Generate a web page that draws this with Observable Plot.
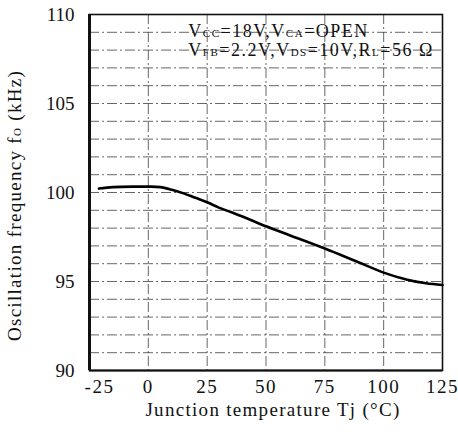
<!DOCTYPE html>
<html>
<head>
<meta charset="utf-8">
<script src="https://cdn.jsdelivr.net/npm/d3@7"></script>
<script src="https://cdn.jsdelivr.net/npm/@observablehq/plot@0.6"></script>
<style>
  html, body { margin: 0; padding: 0; background: #fff; }
</style>
</head>
<body>
<div id="chart"></div>
<script>
// Data
const tempC = [-21, -15, -5, 0, 5, 10, 15, 20, 25, 30, 35, 40, 50, 60, 75, 88, 100, 110, 118, 125];
const freqKHz = [100.22, 100.3, 100.33, 100.33, 100.3, 100.15, 99.95, 99.7, 99.45, 99.15, 98.9, 98.65, 98.1, 97.6, 96.85, 96.15, 95.5, 95.1, 94.9, 94.8];

const xTicks = [-25, 0, 25, 50, 75, 100, 125];
const yTicks = [90, 95, 100, 105, 110];
const xGrid = [0, 25, 50, 75, 100];
const yGrid = d3.range(91, 110);

const annLines = ["V_{CC}=18V,V_{CA}=OPEN", "V_{FB}=2.2V,V_{DS}=10V,R_{L}=56 Ω"];
const annX = [17, 17];
const annY = [109.05, 108.0];

const xTitle = "Junction temperature Tj (°C)";
const yTitle = "Oscillation frequency f_{O} (kHz)";

const data = tempC.map((t, i) => ({t, f: freqKHz[i]}));
const ann = annLines.map((s, i) => ({s, x: annX[i], y: annY[i]}));

const font = "Liberation Serif, Times New Roman, serif";
const gridStyle = {stroke: "#333", strokeWidth: 1, strokeOpacity: 0.75, strokeDasharray: "10,3,2,3"};

const chart = Plot.plot({
  width: 458,
  height: 432,
  marginLeft: 89,
  marginRight: 16,
  marginTop: 14,
  marginBottom: 62,
  style: {fontFamily: font, fontSize: "19px", color: "#111", background: "#fff"},
  x: {domain: [-25, 125]},
  y: {domain: [90, 110]},
  marks: [
    Plot.ruleY(yGrid, gridStyle),
    Plot.ruleX(xGrid, gridStyle),
    Plot.frame({stroke: "#111", strokeWidth: 1.6}),
    Plot.ruleX([-25], {stroke: "#111", strokeWidth: 3}),
    Plot.ruleY([90], {stroke: "#111", strokeWidth: 2}),
    Plot.line(data, {x: "t", y: "f", stroke: "#000", strokeWidth: 2.6, curve: "catmull-rom"}),
    Plot.axisY(yTicks, {tickSize: 0, tickPadding: 15, fontSize: 19, label: null}),
    Plot.axisX(xTicks.filter(d => d !== -25), {tickSize: 0, tickPadding: 9, fontSize: 19, label: null, tickFormat: d => String(d), className: "xt"}),
    Plot.axisX([-25], {tickSize: 0, tickPadding: 9, fontSize: 19, label: null, dx: 10, tickFormat: d => String(d), className: "xt"}),
    Plot.text([xTitle], {frameAnchor: "bottom", dx: 7, dy: 45, fontSize: 19, text: d => d, fill: "#111", className: "spaced"}),
    Plot.text([yTitle], {frameAnchor: "left", dx: -75, dy: 13, rotate: -90, textAnchor: "middle", fontSize: 19, text: d => d, fill: "#111", className: "spaced"}),
    Plot.text(ann, {x: "x", y: "y", text: "s", textAnchor: "start", fontSize: 18, fill: "#111", className: "ann"})
  ]
});

// Render _{...} as small subscript-style tspans
chart.querySelectorAll("text").forEach(t => {
  const s = t.textContent;
  if (!s.includes("_{")) return;
  const parts = s.split(/(_\{[^}]*\})/);
  t.textContent = "";
  for (const p of parts) {
    if (!p) continue;
    const ts = document.createElementNS("http://www.w3.org/2000/svg", "tspan");
    if (p.startsWith("_{")) {
      ts.textContent = p.slice(2, -1);
      ts.setAttribute("font-size", "11");
    } else {
      ts.textContent = p;
    }
    t.appendChild(ts);
  }
});
chart.querySelectorAll(".spaced text").forEach(t => t.setAttribute("letter-spacing", "1.3"));
chart.querySelectorAll(".ann text").forEach(t => t.setAttribute("letter-spacing", "1.5"));
chart.querySelectorAll(".xt text").forEach(t => t.setAttribute("letter-spacing", "1.5"));

document.getElementById("chart").appendChild(chart);
</script>
</body>
</html>
